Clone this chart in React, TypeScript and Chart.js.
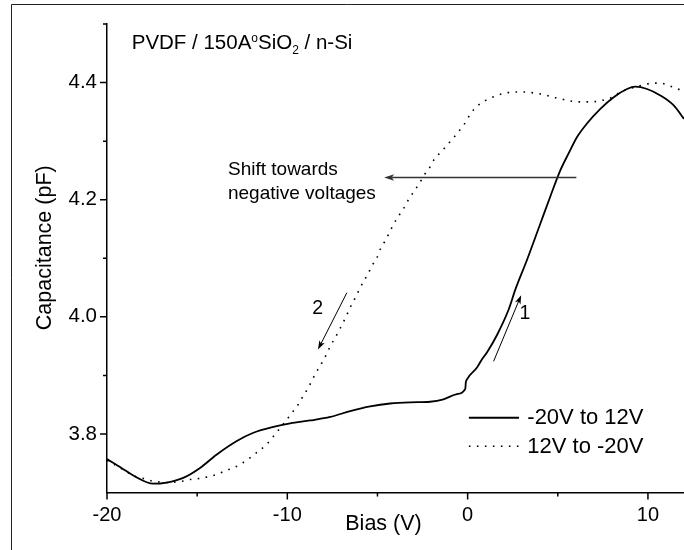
import { useEffect, useRef } from 'react';
import { Chart, registerables } from 'chart.js';

Chart.register(...registerables);

// ---- data ----
const SOLID_BIAS = [-20, -19.2, -18.54, -17.43, -16.69, -15.77, -14.84, -13.91, -12.8, -11.88, -10.77, -9.84, -8.73, -7.62, -6.51, -5.4, -4.3, -3.19, -2.08, -1.34, -0.59, -0.13, -0.1, -0.04, 0.51, 0.79, 1.07, 1.63, 2.27, 2.64, 3.29, 4.03, 4.58, 5.14, 5.6, 6.07, 6.62, 7.36, 8.1, 8.84, 9.3, 9.95, 10.69, 11.43, 12.0];
const SOLID_CAP = [3.757, 3.742, 3.729, 3.715, 3.717, 3.725, 3.742, 3.765, 3.788, 3.802, 3.812, 3.818, 3.823, 3.829, 3.839, 3.847, 3.852, 3.854, 3.855, 3.859, 3.868, 3.877, 3.888, 3.893, 3.913, 3.927, 3.939, 3.969, 4.012, 4.046, 4.097, 4.159, 4.205, 4.250, 4.279, 4.307, 4.330, 4.355, 4.375, 4.389, 4.393, 4.389, 4.378, 4.361, 4.338];

const DOTTED_BIAS = [-20, -19.2, -18.48, -17.98, -17.52, -17.06, -16.6, -16.17, -15.71, -15.27, -14.84, -14.38, -13.91, -13.45, -12.99, -12.56, -12.12, -11.66, -11.19, -10.8, -10.43, -10.07, -9.72, -9.4, -9.14, -8.83, -8.61, -8.36, -8.09, -7.86, -7.63, -7.35, -7.11, -6.89, -6.48, -6.24, -6.02, -5.78, -5.53, -5.31, -5.03, -4.85, -4.57, -4.33, -4.11, -3.83, -3.55, -3.28, -3.0, -2.67, -2.41, -2.08, -1.85, -1.43, -0.67, -0.23, 0.24, 0.7, 1.16, 1.63, 2.09, 2.55, 3.01, 3.47, 3.94, 4.4, 4.86, 5.32, 5.79, 6.25, 6.71, 7.18, 7.64, 8.1, 8.47, 8.93, 9.39, 9.86, 10.32, 10.69, 11.15, 11.65, 12.0];
const DOTTED_CAP = [3.755, 3.741, 3.728, 3.724, 3.720, 3.718, 3.717, 3.718, 3.720, 3.723, 3.724, 3.727, 3.731, 3.737, 3.742, 3.749, 3.758, 3.769, 3.781, 3.795, 3.809, 3.823, 3.837, 3.850, 3.864, 3.879, 3.893, 3.907, 3.921, 3.934, 3.949, 3.964, 3.978, 3.991, 4.018, 4.032, 4.046, 4.060, 4.073, 4.087, 4.101, 4.115, 4.130, 4.144, 4.158, 4.172, 4.185, 4.200, 4.213, 4.228, 4.242, 4.256, 4.269, 4.283, 4.310, 4.327, 4.350, 4.364, 4.372, 4.378, 4.382, 4.384, 4.384, 4.383, 4.381, 4.378, 4.374, 4.371, 4.368, 4.367, 4.367, 4.368, 4.371, 4.376, 4.384, 4.389, 4.393, 4.397, 4.399, 4.399, 4.395, 4.389, 4.386];

const SERIES_LABELS = ['-20V to 12V', '12V to -20V'];

const X_MIN = -20;
const X_MAX = 12;
const Y_MIN = 3.7;
const Y_MAX = 4.5;
const X_MAJOR = [-20, -10, 0, 10];
const X_MINOR = [-15, -5, 5];
const Y_MAJOR = [3.8, 4.0, 4.2, 4.4];
const Y_MINOR = [3.9, 4.1, 4.3, 4.5];

// annotations, in data units [x, y]
const SHIFT_ARROW = [6.03, 4.238, -4.63, 4.238];
const ARROW_1 = [1.44, 3.924, 2.97, 4.037];
const ARROW_2 = [-6.7, 4.041, -8.3, 3.944];
const LABEL_1 = [3.18, 4.006];
const LABEL_2 = [-8.32, 4.014];
const SHIFT_TEXT = ['Shift towards', 'negative voltages'];
const SHIFT_TEXT_X = -13.29;
const SHIFT_TEXT_Y = [4.2417, 4.2017];
const SAMPLE_POS = [-18.63, 4.457];
const LEGEND_LINE_X = [0.07, 2.85];
const LEGEND_Y = [3.8276, 3.779];
const LEGEND_TEXT_X = 3.31;

const FONT = '"Liberation Sans", Arial, Helvetica, sans-serif';

function drawArrow(ctx: CanvasRenderingContext2D, x1: number, y1: number, x2: number, y2: number, head: number, half: number) {
  const a = Math.atan2(y2 - y1, x2 - x1);
  const c = Math.cos(a), s = Math.sin(a);
  ctx.beginPath();
  ctx.moveTo(x1, y1);
  ctx.lineTo(x2 - c * head * 0.7, y2 - s * head * 0.7);
  ctx.stroke();
  ctx.beginPath();
  ctx.moveTo(x2, y2);
  ctx.lineTo(x2 - c * head + s * half, y2 - s * head - c * half);
  ctx.lineTo(x2 - c * head * 0.75, y2 - s * head * 0.75);
  ctx.lineTo(x2 - c * head - s * half, y2 - s * head + c * half);
  ctx.closePath();
  ctx.fill();
}

const overlay = {
  id: 'overlay',
  afterDraw(chart: any) {
    const { ctx, chartArea, scales } = chart;
    const xs = scales.x, ys = scales.y;
    const px = (v: number) => xs.getPixelForValue(v);
    const py = (v: number) => ys.getPixelForValue(v);
    ctx.save();

    // outer frame (cut figure border)
    ctx.strokeStyle = '#222';
    ctx.lineWidth = 1;
    ctx.beginPath();
    ctx.moveTo(11.5, chart.height);
    ctx.lineTo(11.5, 4.5);
    ctx.lineTo(chart.width, 4.5);
    ctx.stroke();

    // tick marks
    ctx.strokeStyle = '#000';
    ctx.lineWidth = 1.5;
    const b = chartArea.bottom, l = chartArea.left;
    ctx.beginPath();
    X_MAJOR.forEach((v) => { ctx.moveTo(px(v), b); ctx.lineTo(px(v), b + 7); });
    X_MINOR.forEach((v) => { ctx.moveTo(px(v), b); ctx.lineTo(px(v), b + 4); });
    Y_MAJOR.forEach((v) => { ctx.moveTo(l, py(v)); ctx.lineTo(l - 7, py(v)); });
    Y_MINOR.forEach((v) => { ctx.moveTo(l, py(v)); ctx.lineTo(l - 4, py(v)); });
    ctx.stroke();

    ctx.fillStyle = '#000';
    // axis titles
    ctx.font = `21.5px ${FONT}`;
    ctx.textAlign = 'center';
    ctx.textBaseline = 'alphabetic';
    ctx.fillText('Bias (V)', (chartArea.left + chartArea.right) / 2 - 12, chartArea.bottom + 37);
    ctx.save();
    ctx.translate(50.5, (chartArea.top + chartArea.bottom) / 2 - 10.5);
    ctx.rotate(-Math.PI / 2);
    ctx.fillText('Capacitance (pF)', 0, 0);
    ctx.restore();

    // sample title with super/subscripts
    ctx.textAlign = 'left';
    let cx = px(SAMPLE_POS[0]);
    const by = py(SAMPLE_POS[1]);
    const seg = (t: string, size: number, dy: number) => {
      ctx.font = `${size}px ${FONT}`;
      ctx.fillText(t, cx, by + dy);
      cx += ctx.measureText(t).width;
    };
    seg('PVDF / 150A', 20.5, 0);
    seg('o', 12, -7.5);
    seg('SiO', 20.5, 0);
    seg('2', 12, 5);
    seg(' / n-Si', 20.5, 0);

    // shift annotation
    ctx.font = `19px ${FONT}`;
    SHIFT_TEXT.forEach((t, i) => ctx.fillText(t, px(SHIFT_TEXT_X), py(SHIFT_TEXT_Y[i])));
    ctx.strokeStyle = '#333';
    ctx.fillStyle = '#333';
    ctx.lineWidth = 1.5;
    drawArrow(ctx, px(SHIFT_ARROW[0]), py(SHIFT_ARROW[1]), px(SHIFT_ARROW[2]), py(SHIFT_ARROW[3]), 10, 3.2);

    // sweep arrows
    ctx.strokeStyle = '#000';
    ctx.fillStyle = '#000';
    ctx.lineWidth = 1;
    drawArrow(ctx, px(ARROW_1[0]), py(ARROW_1[1]), px(ARROW_1[2]), py(ARROW_1[3]), 9, 3);
    drawArrow(ctx, px(ARROW_2[0]), py(ARROW_2[1]), px(ARROW_2[2]), py(ARROW_2[3]), 9, 3);
    ctx.font = `19.5px ${FONT}`;
    ctx.textAlign = 'center';
    ctx.textBaseline = 'middle';
    ctx.fillText('1', px(LABEL_1[0]), py(LABEL_1[1]));
    ctx.fillText('2', px(LABEL_2[0]), py(LABEL_2[1]));

    // legend
    chart.data.datasets.forEach((ds: any, i: number) => {
      const yy = py(LEGEND_Y[i]);
      ctx.strokeStyle = ds.borderColor;
      ctx.lineWidth = ds.borderWidth;
      ctx.setLineDash(ds.borderDash || []);
      ctx.lineCap = 'butt';
      ctx.beginPath();
      ctx.moveTo(px(LEGEND_LINE_X[0]), yy);
      ctx.lineTo(px(LEGEND_LINE_X[1]), yy);
      ctx.stroke();
      ctx.setLineDash([]);
      ctx.font = `22px ${FONT}`;
      ctx.textAlign = 'left';
      ctx.textBaseline = 'middle';
      ctx.fillStyle = '#000';
      ctx.fillText(ds.label, px(LEGEND_TEXT_X), yy + 0.5);
    });

    ctx.restore();
  },
};

export default function App() {
  const ref = useRef<HTMLCanvasElement>(null);
  useEffect(() => {
    const chart = new Chart(ref.current as HTMLCanvasElement, {
      type: 'line',
      data: {
        datasets: [
          {
            label: SERIES_LABELS[0],
            data: SOLID_BIAS.map((x, i) => ({ x, y: SOLID_CAP[i] })),
            borderColor: '#000',
            borderWidth: 1.8,
            pointRadius: 0,
            fill: false,
            cubicInterpolationMode: 'monotone',
          },
          {
            label: SERIES_LABELS[1],
            data: DOTTED_BIAS.map((x, i) => ({ x, y: DOTTED_CAP[i] })),
            borderColor: '#000',
            borderWidth: 1.6,
            borderDash: [1.6, 6.4],
            borderCapStyle: 'butt',
            pointRadius: 0,
            fill: false,
            cubicInterpolationMode: 'monotone',
          },
        ],
      },
      options: {
        responsive: false,
        animation: false,
        events: [],
        layout: { padding: { top: 24, left: 0, right: 0, bottom: 0 } },
        plugins: { legend: { display: false }, tooltip: { enabled: false } },
        scales: {
          x: {
            type: 'linear',
            min: X_MIN,
            max: X_MAX,
            afterBuildTicks: (s: any) => { s.ticks = X_MAJOR.map((v) => ({ value: v })); },
            afterFit: (s: any) => { s.height = 57.5; },
            grid: { display: false },
            border: { display: true, color: '#000', width: 1.5 },
            ticks: {
              color: '#000',
              font: { family: FONT, size: 20 },
              padding: 3,
              maxRotation: 0,
              autoSkip: false,
              callback: (v: any) => String(v),
            },
          },
          y: {
            type: 'linear',
            min: Y_MIN,
            max: Y_MAX,
            afterBuildTicks: (s: any) => { s.ticks = Y_MAJOR.map((v) => ({ value: v })); },
            afterFit: (s: any) => { s.width = 107; },
            grid: { display: false },
            border: { display: true, color: '#000', width: 1.5 },
            ticks: {
              color: '#000',
              font: { family: FONT, size: 20.5 },
              padding: 2,
              autoSkip: false,
              callback: (v: any) => Number(v).toFixed(1),
            },
          },
        },
      },
      plugins: [overlay],
    } as any);
    return () => chart.destroy();
  }, []);
  return (
    <div style={{ position: 'fixed', left: 0, top: 0, width: 684, height: 550, background: '#fff' }}>
      <canvas ref={ref} width={684} height={550} style={{ display: 'block' }} />
    </div>
  );
}
